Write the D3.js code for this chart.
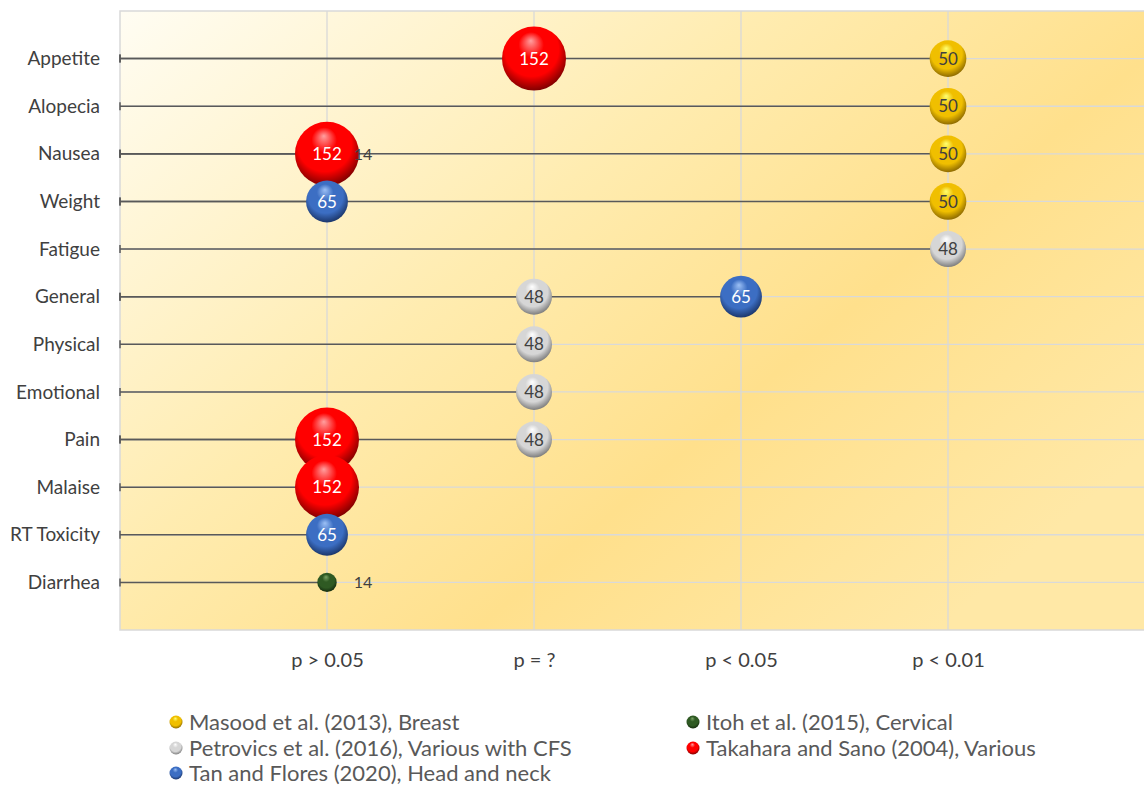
<!DOCTYPE html>
<html>
<head>
<meta charset="utf-8">
<script src="https://cdn.jsdelivr.net/npm/d3@7"></script>
<style>
  html, body { margin: 0; padding: 0; background: #ffffff; }
  svg { display: block; font-family: "Lato", "Open Sans", sans-serif; }
</style>
</head>
<body>
<svg id="chart" width="1144" height="786"></svg>
<script>
// Outcome categories, top to bottom
const categories = ["Appetite", "Alopecia", "Nausea", "Weight", "Fatigue", "General",
  "Physical", "Emotional", "Pain", "Malaise", "RT Toxicity", "Diarrhea"];

// Significance levels along the x axis (positions 1..4)
const pLevels = ["p > 0.05", "p = ?", "p < 0.05", "p < 0.01"];

// Each study: sample size n and, per outcome, the significance level reached
const studyNames = ["Masood et al. (2013), Breast", "Petrovics et al. (2016), Various with CFS",
  "Tan and Flores (2020), Head and neck", "Itoh et al. (2015), Cervical", "Takahara and Sano (2004), Various"];
const studySizes = [50, 48, 65, 14, 152];

const masoodOutcomes    = ["Appetite", "Alopecia", "Nausea", "Weight"];
const masoodLevels      = [4, 4, 4, 4];
const petrovicsOutcomes = ["Fatigue", "General", "Physical", "Emotional", "Pain"];
const petrovicsLevels   = [4, 2, 2, 2, 2];
const tanOutcomes       = ["Weight", "General", "RT Toxicity"];
const tanLevels         = [1, 3, 1];
const itohOutcomes      = ["Nausea", "Diarrhea"];
const itohLevels        = [1, 1];
const takaharaOutcomes  = ["Appetite", "Nausea", "Pain", "Malaise"];
const takaharaLevels    = [2, 1, 1, 1];

// Sphere shading per study: highlight, body, rim
const sphereColors = [
  ["#ffff70", "#f0bf00", "#7d5c00"],
  ["#ffffff", "#d6d6d6", "#6e6e6e"],
  ["#9cc0f5", "#3c6ec3", "#162d5c"],
  ["#7aa466", "#2f5a23", "#10240a"],
  ["#ffa0a0", "#ff0000", "#6a0000"]
];
const labelColors = ["#404040", "#404040", "#ffffff", "#404040", "#ffffff"];

const studies = [
  {outcomes: masoodOutcomes, levels: masoodLevels},
  {outcomes: petrovicsOutcomes, levels: petrovicsLevels},
  {outcomes: tanOutcomes, levels: tanLevels},
  {outcomes: itohOutcomes, levels: itohLevels},
  {outcomes: takaharaOutcomes, levels: takaharaLevels}
].map((s, i) => ({
  name: studyNames[i], n: studySizes[i], idx: i,
  points: s.outcomes.map((o, j) => ({outcome: o, level: s.levels[j], n: studySizes[i], idx: i}))
}));

const svg = d3.select("#chart");
const plot = {left: 120, top: 11, bottom: 630};
const FONT = "Lato, 'Open Sans', sans-serif";

const x = d3.scaleLinear().domain([0, 5]).range([plot.left, plot.left + 5 * 207]);
const y = d3.scaleLinear().domain([0, 13]).range([plot.bottom, plot.top]);
const rowOf = d3.scaleOrdinal().domain(categories).range(d3.range(12, 0, -1));
const r = d3.scaleSqrt().domain([0, 152]).range([0, 32]);

const defs = svg.append("defs");

// Plot area background gradient
const bg = defs.append("linearGradient").attr("id", "bgGrad")
  .attr("x1", 0).attr("y1", 0).attr("x2", 1).attr("y2", 0.7);
[[0, "#fffdf3"], [0.42, "#ffecb0"], [0.7, "#ffe08c"], [1, "#ffe8a6"]]
  .forEach(([o, c]) => bg.append("stop").attr("offset", o).attr("stop-color", c));

sphereColors.forEach((c, i) => {
  const g = defs.append("radialGradient").attr("id", "sphere" + i)
    .attr("cx", 0.47).attr("cy", 0.42).attr("r", 0.62)
    .attr("fx", 0.45).attr("fy", 0.22);
  g.append("stop").attr("offset", 0).attr("stop-color", c[0]);
  g.append("stop").attr("offset", 0.32).attr("stop-color", c[1]);
  g.append("stop").attr("offset", 0.68).attr("stop-color", c[1]);
  g.append("stop").attr("offset", 1).attr("stop-color", c[2]);
});

// Background and border
svg.append("rect")
  .attr("x", x(0)).attr("y", y(13))
  .attr("width", x(5) - x(0)).attr("height", y(0) - y(13))
  .attr("fill", "url(#bgGrad)")
  .attr("stroke", "#d9d9d9").attr("stroke-width", 1.5);

// Gridlines
const grid = svg.append("g").attr("stroke", "#d9d9d9").attr("stroke-width", 1.3);
grid.selectAll("line.v").data(d3.range(1, 5)).join("line")
  .attr("x1", d => x(d)).attr("x2", d => x(d))
  .attr("y1", y(13)).attr("y2", y(0));
grid.selectAll("line.h").data(d3.range(1, 13)).join("line")
  .attr("x1", x(0)).attr("x2", x(5))
  .attr("y1", d => y(d)).attr("y2", d => y(d));

// Category axis
const yAxis = d3.axisLeft(y)
  .tickValues(d3.range(1, 13))
  .tickFormat(v => categories[12 - v])
  .tickSize(0).tickPadding(20);
svg.append("g").attr("transform", `translate(${x(0)},0)`).call(yAxis)
  .call(g => g.select(".domain").remove())
  .call(g => g.selectAll("text").attr("fill", "#404040")
    .style("font-size", "19px").style("font-family", FONT));

// Significance axis
const xAxis = d3.axisBottom(x)
  .tickValues([1, 2, 3, 4])
  .tickFormat(v => pLevels[v - 1])
  .tickSize(0).tickPadding(23);
svg.append("g").attr("transform", `translate(0,${y(0)})`).call(xAxis)
  .call(g => g.select(".domain").remove())
  .call(g => g.selectAll("text").attr("fill", "#404040")
    .style("font-size", "20px").style("font-family", FONT));

const allPoints = studies.flatMap(s => s.points);

// Bars running from the axis to each point
const bars = svg.append("g").attr("stroke", "#595959").attr("stroke-width", 1.5);
allPoints.forEach(p => {
  const yy = y(rowOf(p.outcome));
  bars.append("line").attr("x1", x(0)).attr("x2", x(p.level)).attr("y1", yy).attr("y2", yy);
  bars.append("line").attr("x1", x(0)).attr("x2", x(0)).attr("y1", yy - 4).attr("y2", yy + 4);
});

// Bubbles: Itoh first, then the rest
const drawOrder = [3, 4, 2, 0, 1];
const bubbles = svg.append("g");
drawOrder.forEach(i => {
  bubbles.selectAll(null).data(studies[i].points).join("circle")
    .attr("cx", d => x(d.level))
    .attr("cy", d => y(rowOf(d.outcome)))
    .attr("r", d => r(d.n))
    .attr("fill", `url(#sphere${i})`);
});

// Value labels
const labels = svg.append("g").style("font-family", FONT);
allPoints.forEach(p => {
  const outside = p.idx === 3;
  labels.append("text")
    .attr("x", x(p.level) + (outside ? 36 : 0))
    .attr("y", y(rowOf(p.outcome)))
    .attr("dy", "0.36em")
    .attr("text-anchor", "middle")
    .attr("fill", labelColors[p.idx])
    .style("font-size", outside ? "16px" : "17px")
    .text(p.n);
});

// Legend
const legendPos = [[176, 722], [176, 748], [176, 773], [693, 722], [693, 748]];
const legend = svg.append("g");
studies.forEach((s, i) => {
  const [lx, ly] = legendPos[i];
  legend.append("circle").attr("cx", lx).attr("cy", ly).attr("r", 6.5)
    .attr("fill", `url(#sphere${i})`);
  legend.append("text").attr("x", lx + 13).attr("y", ly).attr("dy", "0.35em")
    .attr("fill", "#595959").style("font-size", "22px").style("font-family", FONT)
    .text(s.name);
});
</script>
</body>
</html>
